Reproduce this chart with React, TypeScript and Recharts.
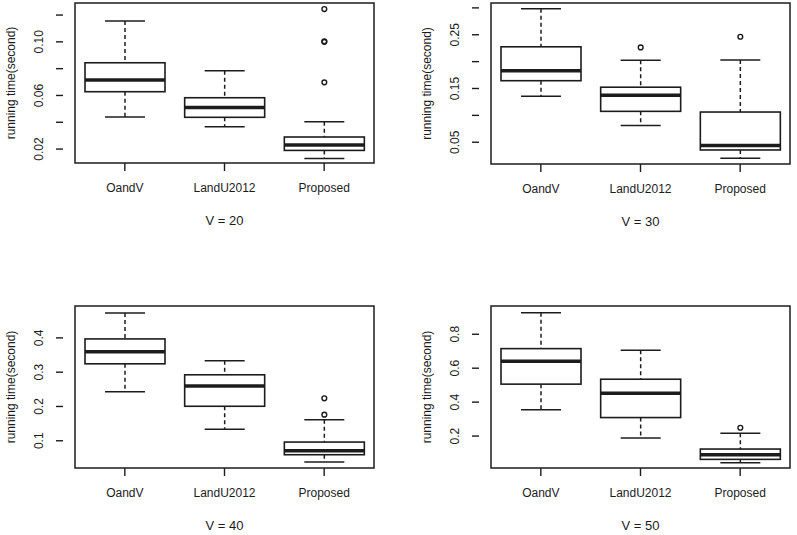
import React from "react";
import {
    ComposedChart,
    Bar,
    XAxis,
    YAxis,
    ReferenceArea
} from "recharts";

const FONT = "'Liberation Sans', Arial, Helvetica, sans-serif";
const INK = "#1c1c1c";

const categories = ["OandV", "LandU2012", "Proposed"];

// V = 20
const v20Lo = [0.0439, 0.0366, 0.013];
const v20Q1 = [0.0628, 0.0437, 0.019];
const v20Med = [0.0715, 0.0511, 0.023];
const v20Q3 = [0.0844, 0.0583, 0.029];
const v20Hi = [0.1155, 0.0784, 0.0404];
const v20Out = [[], [], [0.0698, 0.1, 0.1004, 0.1245]];
const v20Ticks = [0.02, 0.04, 0.06, 0.08, 0.1, 0.12];
const v20Labels = ["0.02", "0.06", "0.10"];

// V = 30
const v30Lo = [0.1356, 0.0813, 0.0201];
const v30Q1 = [0.1645, 0.1075, 0.0356];
const v30Med = [0.1832, 0.1375, 0.0437];
const v30Q3 = [0.2276, 0.1524, 0.1062];
const v30Hi = [0.2985, 0.2024, 0.203];
const v30Out = [[], [0.2265], [0.2463]];
const v30Ticks = [0.05, 0.1, 0.15, 0.2, 0.25, 0.3];
const v30Labels = ["0.05", "0.15", "0.25"];

// V = 40
const v40Lo = [0.243, 0.1337, 0.0378];
const v40Q1 = [0.3244, 0.2006, 0.0593];
const v40Med = [0.3593, 0.2596, 0.0706];
const v40Q3 = [0.397, 0.2924, 0.0962];
const v40Hi = [0.4727, 0.3331, 0.1616];
const v40Out = [[], [], [0.1762, 0.2238]];
const v40Ticks = [0.1, 0.2, 0.3, 0.4];
const v40Labels = ["0.1", "0.2", "0.3", "0.4"];

// V = 50
const v50Lo = [0.3547, 0.188, 0.0427];
const v50Q1 = [0.506, 0.309, 0.0627];
const v50Med = [0.641, 0.453, 0.09];
const v50Q3 = [0.7153, 0.535, 0.1235];
const v50Hi = [0.927, 0.706, 0.216];
const v50Out = [[], [], [0.249]];
const v50Ticks = [0.2, 0.4, 0.6, 0.8];
const v50Labels = ["0.2", "0.4", "0.6", "0.8"];

const buildRows = (lo, q1, med, q3, hi, out) =>
    categories.map((name, i) => ({
        name,
        range: [lo[i], hi[i]],
        q1: q1[i],
        med: med[i],
        q3: q3[i],
        out: out[i]
    }));

// draws one box from the whisker range bar; inner stats are placed on the same linear scale
const BoxShape = (props: any) => {
    const { x, y, width, height, payload } = props;
    const [lo, hi] = payload.range;
    const top = Math.min(y, y + height);
    const h = Math.abs(height);
    const k = h / (hi - lo);
    const py = (v: number) => top + (hi - v) * k;
    const cx = x + width / 2;
    const cap = width / 4;
    return (
        <g>
            <line x1={cx} x2={cx} y1={py(hi)} y2={py(payload.q3)} stroke={INK} strokeWidth={1.5} strokeDasharray="4 3" />
            <line x1={cx} x2={cx} y1={py(payload.q1)} y2={py(lo)} stroke={INK} strokeWidth={1.5} strokeDasharray="4 3" />
            <line x1={cx - cap} x2={cx + cap} y1={py(hi)} y2={py(hi)} stroke={INK} strokeWidth={1.5} />
            <line x1={cx - cap} x2={cx + cap} y1={py(lo)} y2={py(lo)} stroke={INK} strokeWidth={1.5} />
            <rect
                x={x}
                y={py(payload.q3)}
                width={width}
                height={py(payload.q1) - py(payload.q3)}
                fill="#fff"
                stroke={INK}
                strokeWidth={1.6}
            />
            <line x1={x} x2={x + width} y1={py(payload.med)} y2={py(payload.med)} stroke={INK} strokeWidth={3.5} />
            {payload.out.map((v: number, i: number) => (
                <circle key={i} cx={cx} cy={py(v)} r={2.4} fill="none" stroke={INK} strokeWidth={1.4} />
            ))}
        </g>
    );
};

function Panel({ left, top, chartWidth, yWidth, plotTop, plotH, domain, ticks, labels, digits, title, rows }: any) {
    const rightMargin = chartWidth - yWidth - 323;
    const axisH = 67;
    const RotTick = ({ x, y, payload }: any) => {
        const txt = payload.value.toFixed(digits);
        if (!labels.includes(txt)) return null;
        return (
            <text
                x={x}
                y={y}
                dy="0.35em"
                textAnchor="middle"
                transform={`rotate(-90 ${x} ${y})`}
                fontSize={12}
                fontFamily={FONT}
                fill={INK}
            >
                {txt}
            </text>
        );
    };
    return (
        <div style={{ position: "absolute", left, top, width: 797 - left, overflow: "hidden" }}>
            <ComposedChart
                width={chartWidth}
                height={plotTop + plotH + axisH}
                data={rows}
                margin={{ top: plotTop, right: rightMargin, left: 0, bottom: 0 }}
            >
                <XAxis
                    dataKey="name"
                    type="category"
                    interval={0}
                    height={axisH}
                    padding={{ left: 12, right: 12 }}
                    axisLine={false}
                    tickSize={8}
                    tickMargin={12}
                    tickLine={{ stroke: INK, strokeWidth: 1.4 }}
                    tick={{ fontSize: 12, fontFamily: FONT, fill: INK }}
                    label={{
                        content: ({ viewBox }: any) => (
                            <text
                                x={viewBox.x + viewBox.width / 2}
                                y={viewBox.y + 57}
                                dy="0.35em"
                                textAnchor="middle"
                                fontSize={13}
                                fontFamily={FONT}
                                fill={INK}
                            >
                                {title}
                            </text>
                        )
                    }}
                />
                <YAxis
                    type="number"
                    domain={domain}
                    ticks={ticks}
                    allowDataOverflow
                    width={yWidth}
                    axisLine={false}
                    tickSize={7}
                    tickMargin={17}
                    tickLine={{ stroke: INK, strokeWidth: 1.4 }}
                    tick={<RotTick />}
                    label={{
                        content: ({ viewBox }: any) => {
                            const lx = viewBox.x + viewBox.width - 52;
                            const ly = viewBox.y + viewBox.height / 2;
                            return (
                                <text
                                    x={lx}
                                    y={ly}
                                    dy="0.35em"
                                    textAnchor="middle"
                                    transform={`rotate(-90 ${lx} ${ly})`}
                                    fontSize={12}
                                    fontFamily={FONT}
                                    fill={INK}
                                >
                                    running time(second)
                                </text>
                            );
                        }
                    }}
                />
                <Bar dataKey="range" barSize={80} shape={BoxShape} isAnimationActive={false} />
                <ReferenceArea
                    y1={domain[0]}
                    y2={domain[1]}
                    fill="none"
                    stroke={INK}
                    strokeWidth={1.5}
                    ifOverflow="visible"
                />
            </ComposedChart>
        </div>
    );
}

export default function App() {
    return (
        <div style={{ position: "relative", width: 797, height: 535, background: "#fff", overflow: "hidden" }}>
            <style>{"body{margin:0}"}</style>
            <Panel
                left={0}
                top={0}
                chartWidth={400}
                yWidth={63}
                plotTop={3}
                plotH={160}
                domain={[0.0096, 0.129]}
                ticks={v20Ticks}
                labels={v20Labels}
                digits={2}
                title="V = 20"
                rows={buildRows(v20Lo, v20Q1, v20Med, v20Q3, v20Hi, v20Out)}
            />
            <Panel
                left={400}
                top={0}
                chartWidth={410}
                yWidth={79}
                plotTop={3}
                plotH={161}
                domain={[0.0095, 0.3091]}
                ticks={v30Ticks}
                labels={v30Labels}
                digits={2}
                title="V = 30"
                rows={buildRows(v30Lo, v30Q1, v30Med, v30Q3, v30Hi, v30Out)}
            />
            <Panel
                left={0}
                top={290}
                chartWidth={400}
                yWidth={63}
                plotTop={16}
                plotH={162}
                domain={[0.0206, 0.493]}
                ticks={v40Ticks}
                labels={v40Labels}
                digits={1}
                title="V = 40"
                rows={buildRows(v40Lo, v40Q1, v40Med, v40Q3, v40Hi, v40Out)}
            />
            <Panel
                left={400}
                top={290}
                chartWidth={410}
                yWidth={79}
                plotTop={16}
                plotH={162}
                domain={[0.0118, 0.9665]}
                ticks={v50Ticks}
                labels={v50Labels}
                digits={1}
                title="V = 50"
                rows={buildRows(v50Lo, v50Q1, v50Med, v50Q3, v50Hi, v50Out)}
            />
        </div>
    );
}
